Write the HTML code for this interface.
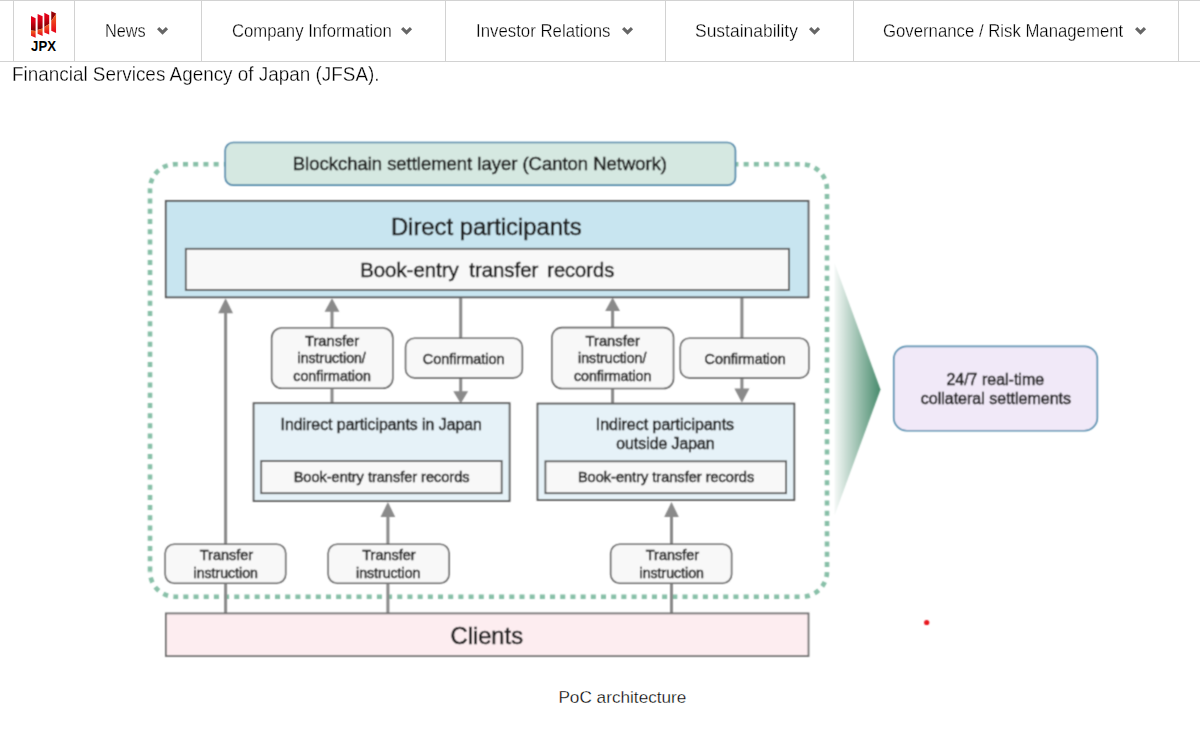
<!DOCTYPE html>
<html lang="en">
<head>
<meta charset="utf-8">
<title>JPX - PoC architecture</title>
<style>
  html, body { margin: 0; padding: 0; background: #fff; }
  body { width: 1200px; height: 732px; overflow: hidden; position: relative;
         font-family: "Liberation Sans", sans-serif; color: #222; }
  .nav { position: absolute; left: 0; top: 0; width: 1200px; height: 62px; background: #fff;
         border-top: 1px solid #d2d2d2; border-bottom: 1px solid #d2d2d2; box-sizing: border-box; z-index: 2; }
  .div { position: absolute; top: 0; width: 1px; height: 61px; background: #d2d2d2; }
  .lbl { position: absolute; white-space: nowrap; font-size: 17.5px; line-height: 17.5px; color: #000; -webkit-text-stroke: 0.3px #fff;
         transform-origin: 0 0; }
  .chev { position: absolute; width: 12px; height: 9px; }
  .body-text { position: absolute; white-space: nowrap; font-size: 19.3px; line-height: 19.3px; color: #000; -webkit-text-stroke: 0.3px #fff;
         transform-origin: 0 0; margin: 0; }
  .cap { position: absolute; white-space: nowrap; font-size: 17.2px; line-height: 17.2px; color: #000; -webkit-text-stroke: 0.3px #fff; transform-origin: 0 0; margin: 0; }
  svg.full { position: absolute; left: 0; top: 0; }
</style>
</head>
<body>

<p class="body-text" id="bt" style="left:12.4px; top:65.3px; transform:scaleX(0.98)">Financial Services Agency of Japan (JFSA).</p>

<figure style="margin:0">
<svg class="full" width="1200" height="732" viewBox="0 0 1200 732"
     font-family="Liberation Sans, sans-serif">
  <style>.full text{stroke:#1a1a1a;stroke-width:0.55px;fill:#1a1a1a;}</style>
  <defs>
    <filter id="soft" x="-5%" y="-5%" width="110%" height="110%"><feConvolveMatrix order="3" kernelMatrix="1 2 1 2 6 2 1 2 1" edgeMode="none"/></filter>
    <linearGradient id="tri" x1="832" y1="0" x2="881" y2="0" gradientUnits="userSpaceOnUse">
      <stop offset="0" stop-color="#ffffff"/>
      <stop offset="1" stop-color="#45896a"/>
    </linearGradient>
  </defs>
  <g filter="url(#soft)">

  <!-- dotted boundary -->
  <g fill="none" stroke="#88c0a8" stroke-width="4.6">
    <path d="M300,164.3 H802 A25,25 0 0 1 827,189.3 V571.7 A25,25 0 0 1 802,596.7" stroke-dasharray="5 5.217" stroke-dashoffset="5.9"/>
    <path d="M802,596.7 H175" stroke-dasharray="5 5.1868" stroke-dashoffset="7.741"/>
    <path d="M175,596.7 A25,25 0 0 1 150,571.7" stroke-dasharray="5 5.45" stroke-dashoffset="3.35"/>
    <path d="M150,571.7 V189.3 A25,25 0 0 1 175,164.3 H300" stroke-dasharray="5 5.217" stroke-dashoffset="9.917"/>
  </g>

  <!-- gradient arrow -->
  <polygon points="834.5,263 880.5,389.5 834.5,515.6" fill="url(#tri)"/>

  <!-- blockchain box -->
  <rect x="225.2" y="142.5" width="510.2" height="42.7" rx="8" fill="#d5e8e1" stroke="#4f88aa" stroke-width="1.7"/>
  <text x="292.8" y="169.6" font-size="18.3" textLength="374.2" lengthAdjust="spacingAndGlyphs" fill="#222">Blockchain settlement layer (Canton Network)</text>

  <!-- connector lines -->
  <g stroke="#8a8a8a" stroke-width="3" fill="none">
    <line x1="225.6" y1="312" x2="225.6" y2="544.2"/>
    <line x1="225.6" y1="583.3" x2="225.6" y2="613.4"/>
    <line x1="332" y1="310" x2="332" y2="328"/>
    <line x1="332" y1="388.3" x2="332" y2="403.2"/>
    <line x1="460.7" y1="297" x2="460.7" y2="338.3"/>
    <line x1="460.7" y1="377.9" x2="460.7" y2="392"/>
    <line x1="612.6" y1="310" x2="612.6" y2="327.6"/>
    <line x1="612.6" y1="388.5" x2="612.6" y2="403.6"/>
    <line x1="741.9" y1="297" x2="741.9" y2="338.3"/>
    <line x1="741.9" y1="377.9" x2="741.9" y2="390"/>
    <line x1="387.9" y1="516" x2="387.9" y2="544.2"/>
    <line x1="387.9" y1="583.3" x2="387.9" y2="613.4"/>
    <line x1="671.5" y1="516" x2="671.5" y2="544.2"/>
    <line x1="671.5" y1="583.3" x2="671.5" y2="613.4"/>
  </g>
  <g fill="#8a8a8a">
    <polygon points="225.6,298.3 233,313.3 218.2,313.3"/>
    <polygon points="332,298.3 339.4,311.7 324.6,311.7"/>
    <polygon points="612.6,297.5 620,311 605.2,311"/>
    <polygon points="460.7,403.6 468.1,391.2 453.3,391.2"/>
    <polygon points="741.9,402.8 749.4,388.5 734.4,388.5"/>
    <polygon points="387.9,502 395.2,517 380.6,517"/>
    <polygon points="671.5,502 678.8,517 664.2,517"/>
  </g>

  <!-- direct participants -->
  <rect x="165.8" y="201" width="642.7" height="96.3" fill="#c8e5f0" stroke="#585858" stroke-width="1.8"/>
  <rect x="185.8" y="248.8" width="603.2" height="41.2" fill="#f8f8f8" stroke="#585858" stroke-width="1.8"/>
  <text x="390.9" y="235.2" font-size="23.6" textLength="190.7" lengthAdjust="spacingAndGlyphs" fill="#222">Direct participants</text>
  <g font-size="20.2" fill="#222">
    <text x="360.2" y="277.4" textLength="98.5" lengthAdjust="spacingAndGlyphs">Book-entry</text>
    <text x="469.3" y="277.4" textLength="69" lengthAdjust="spacingAndGlyphs">transfer</text>
    <text x="547.2" y="277.4" textLength="67" lengthAdjust="spacingAndGlyphs">records</text>
  </g>

  <!-- small rounded boxes -->
  <g fill="#f8f8f8" stroke="#666" stroke-width="1.6">
    <rect x="271.7" y="328" width="121.1" height="60.3" rx="10"/>
    <rect x="405.6" y="338.3" width="116.7" height="39.6" rx="9"/>
    <rect x="552" y="327.6" width="121.5" height="60.9" rx="10"/>
    <rect x="680.3" y="338.3" width="128.5" height="39.6" rx="9"/>
    <rect x="165.2" y="544.2" width="120.5" height="39.1" rx="9"/>
    <rect x="328.2" y="544.2" width="120.9" height="39.1" rx="9"/>
    <rect x="610.7" y="544.2" width="120.9" height="39.1" rx="9"/>
  </g>

  <!-- indirect participants -->
  <g stroke="#585858" stroke-width="1.8">
    <rect x="253.6" y="403.2" width="256" height="97.8" fill="#e6f2f8"/>
    <rect x="261.2" y="461" width="240.5" height="32.2" fill="#f8f8f8"/>
    <rect x="537.5" y="403.6" width="256.8" height="96.4" fill="#e6f2f8"/>
    <rect x="545.4" y="461.3" width="240.7" height="31.9" fill="#f8f8f8"/>
  </g>

  <!-- clients -->
  <rect x="165.9" y="613.4" width="642.6" height="42.6" fill="#fdedf0" stroke="#707070" stroke-width="1.8"/>
  <text x="450.5" y="643.5" font-size="23.7" textLength="72.5" lengthAdjust="spacingAndGlyphs" fill="#222">Clients</text>

  <!-- small text -->
  <g font-size="14.5" fill="#2a2a2a" lengthAdjust="spacingAndGlyphs">
    <text x="305" y="345.5" textLength="54.2" lengthAdjust="spacingAndGlyphs">Transfer</text>
    <text x="297.5" y="363.3" textLength="68.3" lengthAdjust="spacingAndGlyphs">instruction/</text>
    <text x="293.3" y="380.8" textLength="77.5" lengthAdjust="spacingAndGlyphs">confirmation</text>
    <text x="422.8" y="363.7" textLength="81.7" lengthAdjust="spacingAndGlyphs">Confirmation</text>

    <text x="585.6" y="345.5" textLength="54.2" lengthAdjust="spacingAndGlyphs">Transfer</text>
    <text x="578.1" y="363.3" textLength="68.3" lengthAdjust="spacingAndGlyphs">instruction/</text>
    <text x="573.9" y="380.8" textLength="77.5" lengthAdjust="spacingAndGlyphs">confirmation</text>
    <text x="704.6" y="363.7" textLength="81.1" lengthAdjust="spacingAndGlyphs">Confirmation</text>

    <text x="280.6" y="430.4" font-size="15.6" textLength="201.3" lengthAdjust="spacingAndGlyphs">Indirect participants in Japan</text>
    <text x="293.7" y="482.2" font-size="14.6" textLength="175.8" lengthAdjust="spacingAndGlyphs">Book-entry transfer records</text>
    <text x="595.8" y="430.4" font-size="15.6" textLength="138.3" lengthAdjust="spacingAndGlyphs">Indirect participants</text>
    <text x="616.3" y="449.2" font-size="15.6" textLength="98.3" lengthAdjust="spacingAndGlyphs">outside Japan</text>
    <text x="577.9" y="482.2" font-size="14.6" textLength="176.3" lengthAdjust="spacingAndGlyphs">Book-entry transfer records</text>

    <text x="199.8" y="559.7" textLength="53.4" lengthAdjust="spacingAndGlyphs">Transfer</text>
    <text x="193.5" y="577.5" textLength="64.4" lengthAdjust="spacingAndGlyphs">instruction</text>
    <text x="362.3" y="559.7" textLength="53.4" lengthAdjust="spacingAndGlyphs">Transfer</text>
    <text x="356" y="577.5" textLength="64.4" lengthAdjust="spacingAndGlyphs">instruction</text>
    <text x="645.8" y="559.7" textLength="53.4" lengthAdjust="spacingAndGlyphs">Transfer</text>
    <text x="639.5" y="577.5" textLength="64.4" lengthAdjust="spacingAndGlyphs">instruction</text>
  </g>

  <!-- 24/7 box -->
  <rect x="893.8" y="346.4" width="203.5" height="84.35" rx="13" fill="#f1e9f8" stroke="#5a92b2" stroke-width="1.7"/>
  <text x="946.4" y="384.9" font-size="16" textLength="97.7" lengthAdjust="spacingAndGlyphs" fill="#2a2a2a">24/7 real-time</text>
  <text x="920.75" y="403.8" font-size="16" textLength="150.3" lengthAdjust="spacingAndGlyphs" fill="#2a2a2a">collateral settlements</text>

  <!-- red dot -->
  <circle cx="926.7" cy="622.5" r="2.6" fill="#e8141c"/>

  </g>
</svg>
<figcaption class="cap" id="cap" style="left:558.4px; top:689px;">PoC architecture</figcaption>
</figure>

<!-- header nav -->
<header class="nav">
  <div class="div" style="left:13px"></div>
  <div class="div" style="left:74px"></div>
  <div class="div" style="left:201px"></div>
  <div class="div" style="left:445px"></div>
  <div class="div" style="left:665px"></div>
  <div class="div" style="left:853px"></div>
  <div class="div" style="left:1178px"></div>

  <svg style="position:absolute;left:0;top:-1px" width="80" height="60" viewBox="0 0 80 60">
    <defs>
      <linearGradient id="bt1" x1="0" y1="0" x2="0" y2="1">
        <stop offset="0" stop-color="#e8001a"/><stop offset="0.35" stop-color="#d80014"/><stop offset="1" stop-color="#7c0000"/>
      </linearGradient>
      <linearGradient id="bt4" x1="0" y1="0" x2="0" y2="1">
        <stop offset="0" stop-color="#a00008"/><stop offset="1" stop-color="#780000"/>
      </linearGradient>
      <linearGradient id="bb1" x1="0" y1="0" x2="0" y2="1">
        <stop offset="0" stop-color="#f06a24"/><stop offset="0.45" stop-color="#ec3a1c"/><stop offset="1" stop-color="#e6001a"/>
      </linearGradient>
    </defs>
    <!-- bars: top (dark) part and bottom (orange) part -->
    <polygon points="31,15.9 35.6,18.3 35.6,30.9 31,30.5" fill="url(#bt1)"/>
    <polygon points="31,30.5 35.6,30.9 35.6,37.7 31,35.7" fill="url(#bb1)"/>
    <polygon points="37.6,14.1 42.6,16.3 42.6,28.6 37.6,30" fill="url(#bt1)"/>
    <polygon points="37.6,30 42.6,28.6 42.6,36 37.6,33.8" fill="url(#bb1)"/>
    <polygon points="44.3,12.8 49.2,15.2 49.2,24 44.3,27" fill="url(#bt1)"/>
    <polygon points="44.3,27 49.2,24 49.2,34.6 44.3,32.5" fill="url(#bb1)"/>
    <polygon points="51.25,11.3 56.05,13.5 56.05,14 51.25,21" fill="url(#bt4)"/>
    <polygon points="51.25,21 56.05,14 56.05,33.1 51.25,30.7" fill="url(#bb1)"/>
    <text x="31.1" y="51" font-family="Liberation Sans, sans-serif" font-weight="bold" font-size="13.8" textLength="24.9" lengthAdjust="spacingAndGlyphs" fill="#000">JPX</text>
  </svg>

  <span class="lbl" id="n1" style="left:104.6px; top:22px; transform:scaleX(0.93)">News</span>
  <span class="lbl" id="n2" style="left:231.5px; top:22px; transform:scaleX(0.955)">Company Information</span>
  <span class="lbl" id="n3" style="left:475.6px; top:22px; transform:scaleX(0.96)">Investor Relations</span>
  <span class="lbl" id="n4" style="left:695.2px; top:22px; transform:scaleX(0.998)">Sustainability</span>
  <span class="lbl" id="n5" style="left:883.3px; top:22px; transform:scaleX(0.957)">Governance / Risk Management</span>

  <svg class="chev" style="left:156.9px; top:26px" width="12" height="9" viewBox="0 0 12 9"><polygon points="0,2.2 2.2,0 5.55,3.35 8.9,0 11.1,2.2 5.55,7.75" fill="#666"/></svg>
  <svg class="chev" style="left:401.3px; top:26px" width="12" height="9" viewBox="0 0 12 9"><polygon points="0,2.2 2.2,0 5.55,3.35 8.9,0 11.1,2.2 5.55,7.75" fill="#666"/></svg>
  <svg class="chev" style="left:622px; top:26px" width="12" height="9" viewBox="0 0 12 9"><polygon points="0,2.2 2.2,0 5.55,3.35 8.9,0 11.1,2.2 5.55,7.75" fill="#666"/></svg>
  <svg class="chev" style="left:809.2px; top:26px" width="12" height="9" viewBox="0 0 12 9"><polygon points="0,2.2 2.2,0 5.55,3.35 8.9,0 11.1,2.2 5.55,7.75" fill="#666"/></svg>
  <svg class="chev" style="left:1134.6px; top:26px" width="12" height="9" viewBox="0 0 12 9"><polygon points="0,2.2 2.2,0 5.55,3.35 8.9,0 11.1,2.2 5.55,7.75" fill="#666"/></svg>
</header>

</body>
</html>
